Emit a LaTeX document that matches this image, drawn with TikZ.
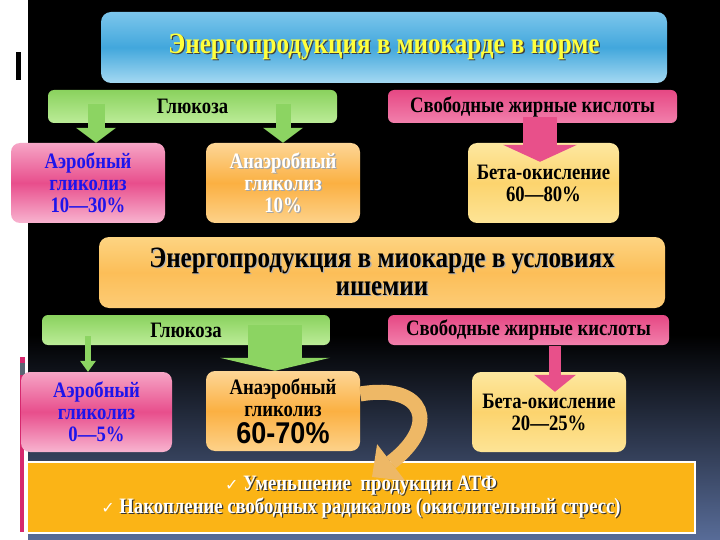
\documentclass[tikz,border=0pt]{standalone}
\usepackage{fontspec}
\setmainfont{Liberation Serif}[FakeStretch=0.85]
\newfontfamily\pctfnt{Liberation Sans}[FakeStretch=0.9]
\newfontfamily\ckfnt{DejaVu Sans}
\usetikzlibrary{arrows.meta}

\definecolor{bgnavy}{RGB}{88,108,152}
\definecolor{decopink}{RGB}{214,40,110}
\definecolor{decogray}{RGB}{90,100,115}
\definecolor{titleyellow}{RGB}{255,255,60}
\definecolor{aerotext}{RGB}{30,20,235}
\definecolor{arrowgreen}{RGB}{140,212,98}
\definecolor{arrowpink}{RGB}{232,80,138}
\definecolor{arrowtan}{RGB}{238,184,102}
\definecolor{resorange}{RGB}{251,180,22}

% text with a dark drop shadow
\newcommand{\shd}[2]{\leavevmode\rlap{\kern1.3pt\raisebox{-1.3pt}{\color{#1}#2}}#2}

\tikzset{
  bar/.style={rounded corners=6pt, minimum height=33pt, inner sep=0pt,
    font=\fontsize{22}{24}\selectfont\bfseries},
  greenbar/.style={bar, top color={rgb,255:red,138;green,210;blue,94},
    bottom color={rgb,255:red,188;green,236;blue,152}},
  pinkbar/.style={bar, top color={rgb,255:red,230;green,72;blue,132},
    bottom color={rgb,255:red,242;green,128;blue,172}},
  box/.style={rounded corners=9pt, minimum width=154pt, minimum height=80pt,
    inner sep=0pt, align=center, font=\fontsize{22}{22}\selectfont\bfseries},
  aerbox/.style={box, text=aerotext, top color={rgb,255:red,246;green,165;blue,198},
    bottom color={rgb,255:red,248;green,180;blue,208}, middle color={rgb,255:red,232;green,78;blue,140}},
  anbox/.style={box, top color={rgb,255:red,253;green,214;blue,150},
    bottom color={rgb,255:red,253;green,210;blue,138}, middle color={rgb,255:red,251;green,176;blue,66}},
  betabox/.style={box, top color={rgb,255:red,253;green,232;blue,160},
    bottom color={rgb,255:red,253;green,228;blue,150}, middle color={rgb,255:red,252;green,212;blue,110}},
  bigbox/.style={rounded corners=10pt, minimum width=566pt, minimum height=71pt,
    inner sep=0pt, align=center, font=\fontsize{29.5}{28}\selectfont\bfseries},
  garrow/.style={draw=arrowgreen, line width=17pt, -{Triangle[length=15pt,width=40pt,line width=0pt]}},
  parrow/.style={draw=arrowpink, line width=34pt, -{Triangle[length=17pt,width=74pt,line width=0pt]}},
}

\begin{document}
\begin{tikzpicture}[x=1pt,y=-1pt]
    %%%%% START %%%%%
    \useasboundingbox (0,0) rectangle (720,540);

    % background
    \fill[white] (0,0) rectangle (720,540);
    \fill[black] (28,0) rectangle (720,335);
    \shade[top color=black, bottom color=bgnavy] (28,335) rectangle (720,540);

    \fill[black] (16,52) rectangle (21,80);
    \fill[decopink] (20,357) rectangle (25,363);
    \fill[decogray] (20,363) rectangle (25,375);
    \fill[decopink] (20,375) rectangle (24,532);

    % normal state
    \node[bigbox, text=titleyellow, top color={rgb,255:red,124;green,198;blue,236},
      bottom color={rgb,255:red,165;green,217;blue,242}, middle color={rgb,255:red,66;green,167;blue,220}]
      (norm) at (384,47.5) {\shd{black!75}{Энергопродукция в миокарде в норме}};

    \node[greenbar, minimum width=289pt] (gl1) at (192.5,106.5) {Глюкоза};
    \node[pinkbar, minimum width=289pt] (fa1) at (532.5,106.5) {Свободные жирные кислоты};

    \node[aerbox] (aer1) at (88,183) {Аэробный\\гликолиз\\10—30\%};
    \node[anbox, text=white] (an1) at (283,183)
      {\shd{black!35}{Анаэробный}\\\shd{black!35}{гликолиз}\\\shd{black!35}{10\%}};
    \node[betabox, minimum width=151pt] (beta1) at (543.5,183) {Бета-окисление\\60—80\%};

    \coordinate (g1a) at (96,104);
    \coordinate (g1b) at (283,104);
    \coordinate (f1a) at (540,117);
    \draw[garrow] (g1a) -- (g1a |- aer1.north);
    \draw[garrow, line width=15pt] (g1b) -- (g1b |- an1.north);
    \draw[parrow] (f1a) -- ([yshift=-19pt]f1a |- beta1.north);

    % ischemia
    \node[bigbox, top color={rgb,255:red,253;green,212;blue,130},
      bottom color={rgb,255:red,253;green,204;blue,118}, middle color={rgb,255:red,252;green,190;blue,88}]
      (isch) at (382,272.5) {\shd{black!30}{Энергопродукция в миокарде в условиях}\\\shd{black!30}{ишемии}};

    \node[greenbar, minimum width=288pt, minimum height=30pt] (gl2) at (186,330) {Глюкоза};
    \node[pinkbar, minimum width=281pt, minimum height=30pt] (fa2) at (528.5,330) {Свободные жирные кислоты};

    \node[aerbox, minimum width=151pt] (aer2) at (96.5,412) {Аэробный\\гликолиз\\0—5\%};
    \node[anbox] (an2) at (283,411)
      {Анаэробный\\гликолиз\\[5pt]{\pctfnt\fontsize{30}{30}\selectfont 60-70\%}};
    \node[betabox] (beta2) at (549,412) {Бета-окисление\\20—25\%};

    \coordinate (g2a) at (88,336);
    \coordinate (g2b) at (275,325);
    \coordinate (f2a) at (555,346);
    \draw[draw=arrowgreen, line width=6pt, -{Triangle[length=11pt,width=16pt,line width=0pt]}]
      (g2a) -- (g2a |- aer2.north);
    \draw[draw=arrowgreen, line width=54pt, -{Triangle[length=13pt,width=110pt,line width=0pt]}]
      (g2b) -- (g2b |- an2.north);
    \draw[draw=arrowpink, line width=12pt, -{Triangle[length=17pt,width=42pt,line width=0pt]}]
      (f2a) -- ([yshift=-20pt]f2a |- beta2.north);

    % consequences
    \node[draw=white, line width=2pt, fill=resorange, minimum width=668pt, minimum height=71pt,
      inner sep=0pt, align=center, text=white, font=\fontsize{22}{19}\selectfont\bfseries]
      (res) at (361,497.5)
      {{\ckfnt\mdseries\fontsize{16}{19}\selectfont ✓} \shd{black!80}{Уменьшение\ \ продукции АТФ}\\
       {\ckfnt\mdseries\fontsize{16}{19}\selectfont ✓} \shd{black!80}{Накопление свободных радикалов (окислительный стресс)}};

    \draw[draw=arrowtan, line width=15pt, -{Triangle[length=24pt,width=46pt,line width=0pt]}]
      ([yshift=17pt]an2.east) .. controls (425,383) and (440,425) .. ([xshift=11pt,yshift=-16pt]res.north);
    %%%%% END %%%%%
\end{tikzpicture}
\end{document}
